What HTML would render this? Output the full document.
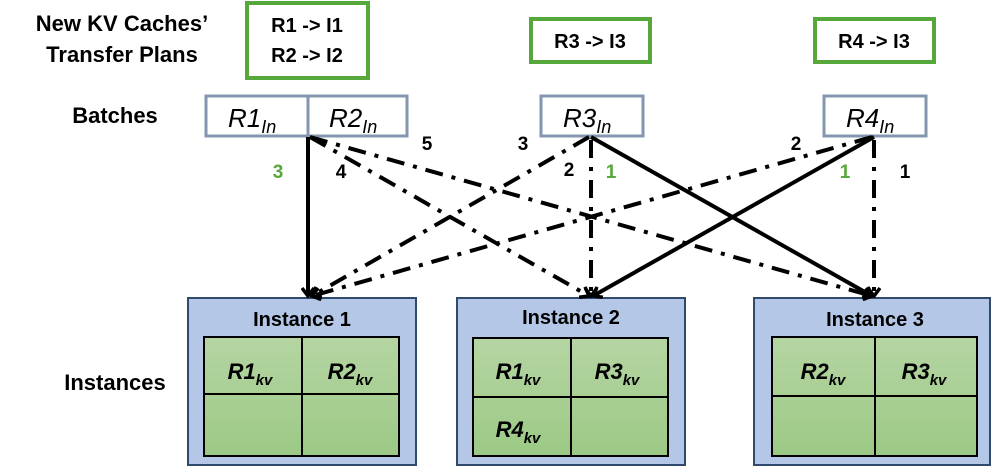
<!DOCTYPE html>
<html><head><meta charset="utf-8"><style>
body{margin:0;width:997px;height:468px;background:#fff;overflow:hidden}
svg text{font-family:"Liberation Sans",Arial,sans-serif}
</style></head><body>
<svg width="997" height="468" viewBox="0 0 997 468" xmlns="http://www.w3.org/2000/svg">
<defs>
<linearGradient id="g" x1="0" y1="0" x2="0" y2="1"><stop offset="0" stop-color="#b5d5a3"/><stop offset="1" stop-color="#9cc985"/></linearGradient>
<marker id="a" markerWidth="12" markerHeight="14" refX="10" refY="7" orient="auto" markerUnits="userSpaceOnUse"><path d="M2,1 L10,7 L2,13" fill="none" stroke="#000" stroke-width="3.5"/></marker>
</defs>
<g font-weight="bold" font-size="22" fill="#000">
<text x="122" y="31" text-anchor="middle">New KV Caches’</text>
<text x="122" y="62" text-anchor="middle">Transfer Plans</text>
<text x="115" y="123" text-anchor="middle">Batches</text>
<text x="115" y="390" text-anchor="middle">Instances</text>
</g>
<g fill="none" stroke="#56a83a" stroke-width="4">
<rect x="247" y="3" width="121" height="75"/>
<rect x="531" y="19" width="119" height="43"/>
<rect x="815" y="19" width="119" height="43"/>
</g>
<g font-weight="bold" font-size="20" fill="#000" text-anchor="middle">
<text x="307" y="32">R1 -&gt; I1</text>
<text x="307" y="62">R2 -&gt; I2</text>
<text x="590" y="48">R3 -&gt; I3</text>
<text x="874" y="48">R4 -&gt; I3</text>
</g>
<g fill="#fff" stroke="#8496b0" stroke-width="3">
<rect x="206" y="96" width="102" height="40"/>
<rect x="308" y="96" width="99" height="40"/>
<rect x="541" y="96" width="102" height="40"/>
<rect x="824" y="96" width="102" height="40"/>
</g>
<g font-style="italic" font-size="26" fill="#000">
<text x="228" y="127">R1<tspan font-size="18" dy="6">In</tspan></text>
<text x="329" y="127">R2<tspan font-size="18" dy="6">In</tspan></text>
<text x="563" y="127">R3<tspan font-size="18" dy="6">In</tspan></text>
<text x="846" y="127">R4<tspan font-size="18" dy="6">In</tspan></text>
</g>
<g stroke="#2f4a6d" stroke-width="2" fill="#b4c7e7">
<rect x="188" y="298" width="228" height="167"/>
<rect x="457" y="298" width="228" height="167"/>
<rect x="754" y="298" width="236" height="167"/>
</g>
<g stroke="#000" stroke-width="2" fill="url(#g)">
<rect x="204" y="337" width="195" height="119"/>
<rect x="473" y="338" width="195" height="118"/>
<rect x="772" y="337" width="205" height="119"/>
</g>
<g stroke="#000" stroke-width="2">
<line x1="302" y1="337" x2="302" y2="456"/><line x1="204" y1="394" x2="399" y2="394"/>
<line x1="571" y1="338" x2="571" y2="456"/><line x1="473" y1="397" x2="668" y2="397"/>
<line x1="875" y1="337" x2="875" y2="456"/><line x1="772" y1="396" x2="977" y2="396"/>
</g>
<g font-weight="bold" font-size="20" fill="#000" text-anchor="middle">
<text x="302" y="326">Instance 1</text>
<text x="571" y="324">Instance 2</text>
<text x="875" y="326">Instance 3</text>
</g>
<g font-weight="bold" font-style="italic" font-size="22" fill="#000" text-anchor="middle">
<text x="250" y="379">R1<tspan font-size="15" dy="6">kv</tspan></text>
<text x="350" y="379">R2<tspan font-size="15" dy="6">kv</tspan></text>
<text x="518" y="379">R1<tspan font-size="15" dy="6">kv</tspan></text>
<text x="617" y="379">R3<tspan font-size="15" dy="6">kv</tspan></text>
<text x="518" y="437">R4<tspan font-size="15" dy="6">kv</tspan></text>
<text x="823" y="379">R2<tspan font-size="15" dy="6">kv</tspan></text>
<text x="924" y="379">R3<tspan font-size="15" dy="6">kv</tspan></text>
</g>
<g stroke="#000" stroke-width="4" fill="none" marker-end="url(#a)">
<line x1="308" y1="137" x2="308" y2="296"/>
<line x1="591" y1="137" x2="872" y2="296"/>
<line x1="874" y1="137" x2="593" y2="296"/>
</g>
<g stroke="#000" stroke-width="4" fill="none" stroke-dasharray="18,9,4,9" marker-end="url(#a)">
<line x1="310" y1="137" x2="589" y2="296"/>
<line x1="310" y1="137" x2="872" y2="296"/>
<line x1="589" y1="137" x2="312" y2="296"/>
<line x1="591" y1="140" x2="591" y2="296"/>
<line x1="872" y1="137" x2="312" y2="296"/>
<line x1="874" y1="140" x2="874" y2="296"/>
</g>
<g font-weight="bold" font-size="19" text-anchor="middle">
<text x="278" y="178" fill="#56a83a">3</text>
<text x="341" y="178" fill="#000">4</text>
<text x="427" y="150" fill="#000">5</text>
<text x="523" y="150" fill="#000">3</text>
<text x="569" y="176" fill="#000">2</text>
<text x="611" y="178" fill="#56a83a">1</text>
<text x="796" y="150" fill="#000">2</text>
<text x="845" y="178" fill="#56a83a">1</text>
<text x="905" y="178" fill="#000">1</text>
</g>
</svg>
</body></html>
